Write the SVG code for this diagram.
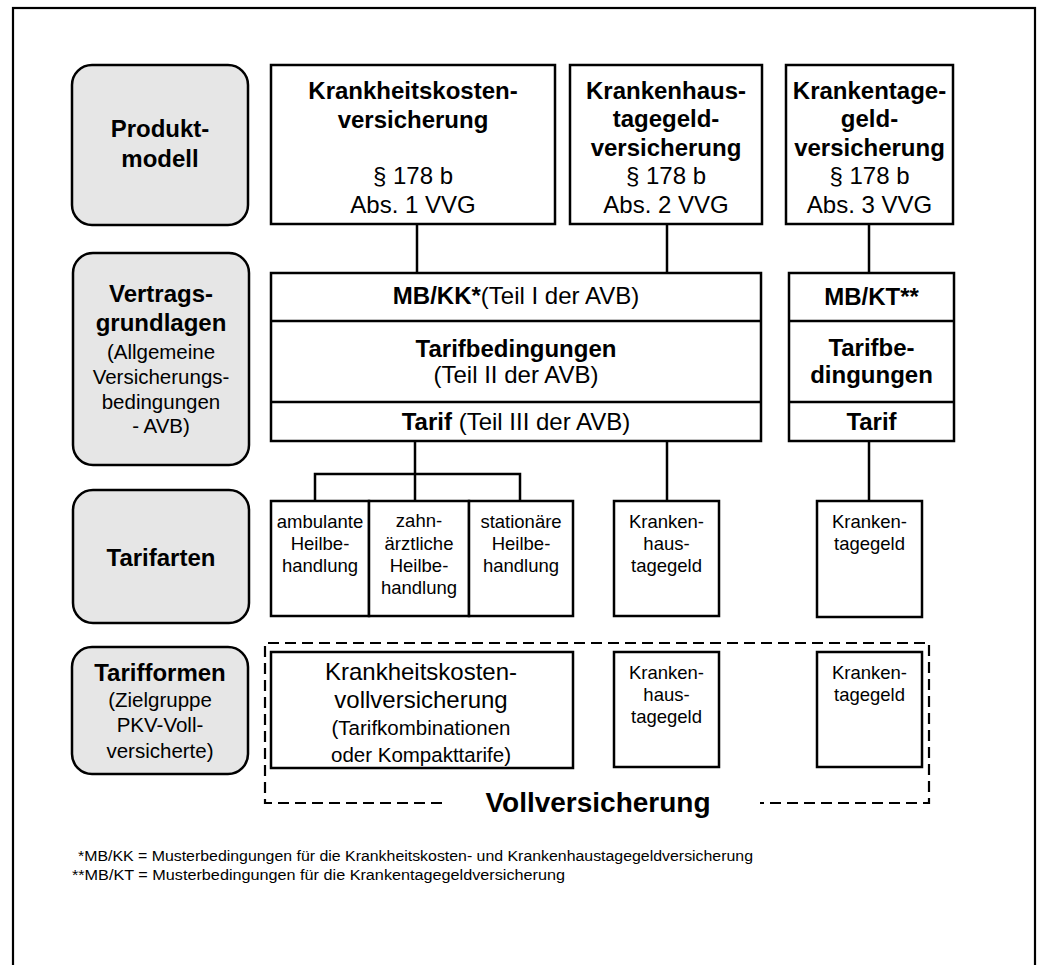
<svg xmlns="http://www.w3.org/2000/svg" width="1041" height="965" viewBox="0 0 1041 965">
  <style>
    text { font-family: "Liberation Sans", Arial, sans-serif; fill: #000; text-anchor: middle; }
    .b { font-weight: bold; }
    .h { font-size: 24px; }
    .s { font-size: 20.5px; }
    .t { font-size: 18.5px; }
    .fn { font-size: 15.5px; text-anchor: start; }
    .box { fill: #fff; stroke: #000; stroke-width: 2.5; }
    .lvl { fill: #e6e6e6; stroke: #000; stroke-width: 2.5; }
    .ln { fill: none; stroke: #000; stroke-width: 2.5; }
    .dash { fill: none; stroke: #000; stroke-width: 2.2; stroke-dasharray: 11 6; }
  </style>

  <!-- outer frame -->
  <rect x="13" y="8" width="1022" height="980" fill="#fff" stroke="#000" stroke-width="2.2"/>

  <!-- level labels -->
  <g id="level-produktmodell">
    <rect class="lvl" x="72" y="65" width="176" height="160" rx="20"/>
    <text class="b h" x="160" y="137">Produkt-</text>
    <text class="b h" x="160" y="167">modell</text>
  </g>
  <g id="level-vertragsgrundlagen">
    <rect class="lvl" x="73" y="253" width="176" height="212" rx="20"/>
    <text class="b h" x="161" y="302">Vertrags-</text>
    <text class="b h" x="161" y="331">grundlagen</text>
    <text class="s" x="161" y="359">(Allgemeine</text>
    <text class="s" x="161" y="384">Versicherungs-</text>
    <text class="s" x="161" y="409">bedingungen</text>
    <text class="s" x="161" y="433">- AVB)</text>
  </g>
  <g id="level-tarifarten">
    <rect class="lvl" x="73" y="490" width="176" height="133" rx="20"/>
    <text class="b h" x="161" y="566">Tarifarten</text>
  </g>
  <g id="level-tarifformen">
    <rect class="lvl" x="72" y="647" width="176" height="127" rx="20"/>
    <text class="b h" x="160" y="681">Tarifformen</text>
    <text class="s" x="160" y="707">(Zielgruppe</text>
    <text class="s" x="160" y="732">PKV-Voll-</text>
    <text class="s" x="160" y="758">versicherte)</text>
  </g>

  <!-- connectors -->
  <g id="connectors">
    <line class="ln" x1="417" y1="224" x2="417" y2="273"/>
    <line class="ln" x1="667" y1="224" x2="667" y2="273"/>
    <line class="ln" x1="869" y1="224" x2="869" y2="273"/>
    <line class="ln" x1="415" y1="441" x2="415" y2="501"/>
    <polyline class="ln" points="315,501 315,474 520,474 520,501"/>
    <line class="ln" x1="667" y1="441" x2="667" y2="501"/>
    <line class="ln" x1="869" y1="441" x2="869" y2="501"/>
  </g>

  <!-- product model -->
  <g id="pm-krankheitskosten">
    <rect class="box" x="271" y="65" width="284" height="159"/>
    <text class="b h" x="413" y="99">Krankheitskosten-</text>
    <text class="b h" x="413" y="128">versicherung</text>
    <text class="h" x="413" y="184">§ 178 b</text>
    <text class="h" x="413" y="213">Abs. 1 VVG</text>
  </g>
  <g id="pm-krankenhaustagegeld">
    <rect class="box" x="570" y="65" width="192" height="159"/>
    <text class="b h" x="666" y="99">Krankenhaus-</text>
    <text class="b h" x="666" y="127">tagegeld-</text>
    <text class="b h" x="666" y="156">versicherung</text>
    <text class="h" x="666" y="184">§ 178 b</text>
    <text class="h" x="666" y="213">Abs. 2 VVG</text>
  </g>
  <g id="pm-krankentagegeld">
    <rect class="box" x="786" y="65" width="167" height="159"/>
    <text class="b h" x="869.5" y="99">Krankentage-</text>
    <text class="b h" x="869.5" y="127">geld-</text>
    <text class="b h" x="869.5" y="156">versicherung</text>
    <text class="h" x="869.5" y="184">§ 178 b</text>
    <text class="h" x="869.5" y="213">Abs. 3 VVG</text>
  </g>

  <!-- contract bases -->
  <g id="vg-mbkk">
    <rect class="box" x="271" y="273" width="490" height="168"/>
    <line class="ln" x1="271" y1="321" x2="761" y2="321"/>
    <line class="ln" x1="271" y1="402" x2="761" y2="402"/>
    <text class="h" x="516" y="304"><tspan class="b">MB/KK*</tspan>(Teil I der AVB)</text>
    <text class="b h" x="516" y="357">Tarifbedingungen</text>
    <text class="h" x="516" y="383">(Teil II der AVB)</text>
    <text class="h" x="516" y="430"><tspan class="b">Tarif</tspan> (Teil III der AVB)</text>
  </g>
  <g id="vg-mbkt">
    <rect class="box" x="789" y="273" width="165" height="168"/>
    <line class="ln" x1="789" y1="321" x2="954" y2="321"/>
    <line class="ln" x1="789" y1="402" x2="954" y2="402"/>
    <text class="b h" x="871.5" y="305">MB/KT**</text>
    <text class="b h" x="871.5" y="356">Tarifbe-</text>
    <text class="b h" x="871.5" y="383">dingungen</text>
    <text class="b h" x="871.5" y="430">Tarif</text>
  </g>

  <!-- tariff types -->
  <g id="ta-ambulant">
    <rect class="box" x="271" y="501" width="98" height="115"/>
    <text class="t" x="320" y="528">ambulante</text>
    <text class="t" x="320" y="550">Heilbe-</text>
    <text class="t" x="320" y="572">handlung</text>
  </g>
  <g id="ta-zahnaerztlich">
    <rect class="box" x="369" y="501" width="100" height="115"/>
    <text class="t" x="419" y="527">zahn-</text>
    <text class="t" x="419" y="550">ärztliche</text>
    <text class="t" x="419" y="572">Heilbe-</text>
    <text class="t" x="419" y="594">handlung</text>
  </g>
  <g id="ta-stationaer">
    <rect class="box" x="469" y="501" width="104" height="115"/>
    <text class="t" x="521" y="528">stationäre</text>
    <text class="t" x="521" y="550">Heilbe-</text>
    <text class="t" x="521" y="572">handlung</text>
  </g>
  <g id="ta-krankenhaustagegeld">
    <rect class="box" x="614" y="501" width="105" height="115"/>
    <text class="t" x="666.5" y="528">Kranken-</text>
    <text class="t" x="666.5" y="550">haus-</text>
    <text class="t" x="666.5" y="572">tagegeld</text>
  </g>
  <g id="ta-krankentagegeld">
    <rect class="box" x="817" y="501" width="105" height="116"/>
    <text class="t" x="869.5" y="528">Kranken-</text>
    <text class="t" x="869.5" y="550">tagegeld</text>
  </g>

  <!-- tariff forms, grouped as full cover -->
  <g id="tf-vollversicherung">
    <path class="dash" d="M442,803 H265 V643 H929 V803 H760"/>
    <text class="b" x="598" y="812" style="font-size:28px">Vollversicherung</text>
  </g>
  <g id="tf-krankheitskosten">
    <rect class="box" x="271" y="652" width="302" height="116"/>
    <text class="h" x="421" y="680">Krankheitskosten-</text>
    <text class="h" x="421" y="708">vollversicherung</text>
    <text class="s" x="421" y="735">(Tarifkombinationen</text>
    <text class="s" x="421" y="762">oder Kompakttarife)</text>
  </g>
  <g id="tf-krankenhaustagegeld">
    <rect class="box" x="614" y="652" width="105" height="115"/>
    <text class="t" x="666.5" y="679">Kranken-</text>
    <text class="t" x="666.5" y="701">haus-</text>
    <text class="t" x="666.5" y="723">tagegeld</text>
  </g>
  <g id="tf-krankentagegeld">
    <rect class="box" x="817" y="652" width="105" height="115"/>
    <text class="t" x="869.5" y="679">Kranken-</text>
    <text class="t" x="869.5" y="701">tagegeld</text>
  </g>

  <!-- footnotes -->
  <g id="footnotes">
    <text class="fn" x="78" y="861" textLength="675" lengthAdjust="spacingAndGlyphs">*MB/KK = Musterbedingungen für die Krankheitskosten- und Krankenhaustagegeldversicherung</text>
    <text class="fn" x="72" y="880" textLength="493" lengthAdjust="spacingAndGlyphs">**MB/KT = Musterbedingungen für die Krankentagegeldversicherung</text>
  </g>
</svg>
